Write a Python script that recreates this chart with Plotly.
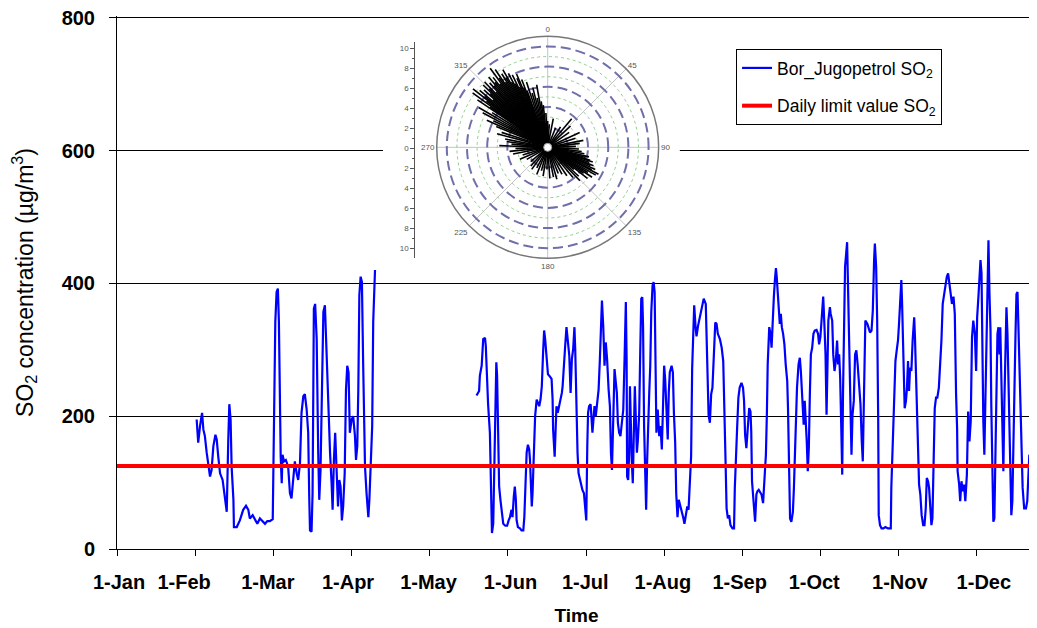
import plotly.graph_objects as go

# Axis labels
MONTH_LABELS = ["1-Jan", "1-Feb", "1-Mar", "1-Apr", "1-May", "1-Jun",
                "1-Jul", "1-Aug", "1-Sep", "1-Oct", "1-Nov", "1-Dec"]
Y_TICKS = [0, 200, 400, 600, 800]
DAILY_LIMIT = 125  # ug/m3
X_END = 357.6      # last day shown (axis runs on a 365-day year)

# SO2 at Bor_Jugopetrol, first measuring period (Feb - Apr), day of year
so2_day_a = [31.0, 31.6, 32.3, 33.1, 33.6, 34.2, 34.9, 35.5, 36.2, 36.8, 37.5, 38.3, 38.8, 39.4,
             40.1, 41.1, 42.0, 42.7, 43.3, 43.7, 44.2, 44.6, 45.3, 45.5, 46.6, 47.8, 49.1, 50.2,
             51.1, 51.7, 52.8, 53.7, 54.6, 55.6, 56.7, 57.6, 58.5, 59.5, 60.6, 60.8, 61.1, 61.6,
             62.1, 62.6, 63.0, 63.4, 63.7, 64.1, 64.4, 65.0, 65.7, 66.6, 67.3, 67.9, 68.6, 69.2,
             69.9, 70.5, 71.2, 71.8, 72.5, 73.1, 73.8, 74.4, 74.8, 75.1, 75.7, 76.1, 76.4, 76.6,
             77.1, 77.7, 78.3, 78.7, 79.2, 79.9, 80.3, 80.9, 81.6, 82.2, 82.9, 83.5, 83.9, 84.4,
             84.9, 85.4, 86.0, 86.5, 87.0, 87.5, 88.0, 88.6, 89.1, 89.6, 90.1, 90.6, 91.3, 91.9,
             92.6, 93.0, 93.5, 93.9, 94.3, 94.8, 95.3, 95.8, 96.5, 97.1, 97.8, 98.2, 98.7, 99.3,
             99.7, 100.4]
so2_val_a = [195, 160, 185, 205, 180, 170, 145, 124, 109, 119, 155, 172, 165, 139,
             114, 104, 79, 56, 165, 218, 195, 124, 74, 33, 33, 43, 59, 65,
             59, 46, 51, 45, 38, 46, 41, 38, 42, 42, 45, 99, 215, 342, 387, 392,
             342, 220, 139, 99, 142, 132, 134, 124, 84, 76, 109, 132, 114, 104,
             129, 205, 230, 233, 210, 175, 79, 28, 26, 84, 245, 362, 369, 316,
             145, 74, 119, 281, 357, 367, 286, 225, 145, 99, 59, 134, 175, 124,
             64, 104, 94, 43, 64, 114, 240, 276, 266, 175, 195, 200, 170, 134,
             155, 240, 382, 410, 402, 276, 124, 84, 48, 74, 114, 185, 342, 420]

# second measuring period (late May - Dec)
so2_day_b = [139.9, 140.9, 141.2, 141.9, 142.5, 143.2, 143.5, 143.8, 144.4, 145.1, 145.5, 145.9,
             146.4, 146.8, 147.2, 147.6, 147.9, 148.3, 148.7, 149.2, 149.8, 150.3, 151.1, 151.8,
             152.4, 152.9, 153.5, 153.9, 154.4, 154.8, 155.2, 155.5, 156.0, 156.8, 157.4, 158.1,
             158.5, 158.8, 159.4, 159.9, 160.4, 160.7, 161.0, 161.4, 161.7, 162.0, 162.3, 162.7,
             163.3, 163.8, 164.3, 164.8, 165.3, 165.8, 166.2, 166.6, 167.1, 167.7, 168.2, 168.7,
             169.1, 169.5, 169.7, 170.3, 170.6, 171.0, 171.5, 172.1, 172.6, 173.1, 173.4, 173.9,
             174.4, 174.9, 175.4, 176.0, 176.5, 177.0, 177.5, 178.0, 178.3, 178.6, 178.8, 179.2,
             179.6, 180.1, 180.6, 181.1, 181.7, 182.2, 182.6, 183.0, 183.3, 183.7, 184.3, 184.6,
             185.0, 185.4, 185.8, 186.3, 186.8, 187.4, 187.9, 188.3, 188.7, 189.2, 189.7, 190.2,
             190.7, 191.3, 191.8, 192.2, 192.6, 193.1, 193.6, 194.1, 194.5, 194.9, 195.4, 195.9,
             196.4, 197.0, 197.5, 197.7, 198.0, 198.3, 198.5, 198.9, 199.3, 199.6, 199.9, 200.3,
             200.7, 201.1, 201.5, 201.9, 202.3, 202.7, 203.2, 203.6, 204.0, 204.4, 204.7, 205.1,
             205.5, 205.9, 206.3, 206.7, 207.1, 207.5, 207.9, 208.4, 208.8, 209.2, 209.5, 209.9,
             210.4, 211.0, 211.5, 212.0, 212.5, 212.9, 213.3, 213.8, 214.3, 214.7, 215.1, 215.8,
             216.3, 216.7, 217.2, 217.6, 218.1, 218.6, 219.3, 219.8, 220.3, 220.8, 221.3, 221.9,
             222.4, 222.9, 223.4, 223.8, 224.2, 224.6, 225.1, 225.5, 226.1,
             227.4, 228.3, 229.1, 229.6, 230.2, 230.7, 231.2, 231.7, 232.2, 232.8, 233.3, 233.8,
             234.6, 235.3, 235.9, 236.4, 236.8, 237.2, 237.7, 238.2, 238.7, 239.5, 240.1, 240.4,
             240.8, 241.3, 241.8, 242.3, 243.0, 243.6, 244.0, 244.4, 244.9, 245.5, 246.0, 246.5,
             246.8, 247.1, 247.5, 247.9, 248.3, 248.8, 249.2, 249.7, 250.3, 250.8, 251.4, 252.1,
             252.5, 252.9, 253.2, 253.8, 254.3, 254.7, 255.1, 255.6, 256.0, 256.4, 256.7, 257.1,
             257.5, 257.9, 258.3, 258.7, 259.2, 259.7, 260.2, 260.8, 261.1, 261.5, 261.9, 262.4,
             263.0, 263.4, 263.7, 264.1, 264.6, 265.2, 265.7, 266.1, 266.5, 266.9, 267.2, 267.6,
             268.0, 268.4, 268.8, 269.2, 269.6, 270.0, 270.5, 271.0, 271.5, 272.2, 272.8, 273.2,
             273.7, 274.2, 274.8, 275.3, 275.7, 276.1, 276.5, 276.8, 277.4, 277.7, 278.3, 278.7,
             279.2, 279.7, 280.2, 280.6, 281.0, 281.4, 281.8, 282.2, 282.5, 282.9, 283.3, 284.1,
             284.5, 284.9, 285.3, 285.8, 286.2, 286.7, 287.2, 287.7, 288.2, 288.8, 289.3, 289.8,
             290.2, 290.6, 291.0, 291.2,
             292.0, 293.0, 293.6, 294.1, 294.6, 294.9, 295.4, 295.8, 296.2, 296.4, 296.9, 297.5,
             298.2, 299.0, 300.0, 301.1, 301.3, 301.9, 302.4, 302.9, 303.4, 303.9, 304.3, 304.7,
             305.2, 305.5, 305.8, 306.1, 306.5, 307.0, 307.4, 307.8, 308.2, 308.6, 309.1, 309.6,
             310.2, 310.5, 310.9, 311.3, 311.7, 312.1, 312.6, 313.1, 313.7, 314.2, 314.7, 315.1,
             315.6, 316.0, 316.4, 316.9, 317.3, 317.7, 318.2, 318.7, 319.2, 319.8, 320.3, 320.8,
             321.3, 321.8, 322.4, 322.9, 323.4, 323.9, 324.4, 324.9, 325.5, 326.0, 326.5, 326.9,
             327.1, 327.7, 328.1, 328.6, 329.1, 329.6, 330.1, 330.7, 331.2, 331.7, 332.2, 332.7,
             333.2, 333.8, 334.3, 334.7, 335.2, 335.6, 336.0, 336.4, 336.7, 337.1, 337.5, 337.9,
             338.3, 338.7, 339.1, 339.5, 339.9, 340.2, 340.6, 341.0, 341.4, 341.8, 342.2, 342.6,
             343.0, 343.4, 343.7, 344.1, 344.5, 344.9, 345.3, 345.7, 346.1, 346.5, 346.9, 347.2,
             347.6, 348.0, 348.4, 348.8, 349.2, 349.6, 350.0, 350.4, 350.7, 351.1, 351.5, 351.9,
             352.4, 353.0, 353.7, 354.2, 354.6, 355.0, 355.4, 355.8, 356.2, 356.6, 357.0, 357.4,
             357.6]
so2_val_b = [231, 238, 261, 276, 316, 318, 306, 271, 218, 175, 89, 24,
             38, 109, 175, 281, 261, 155, 94, 74, 54, 38, 35, 35,
             43, 48, 59, 48, 79, 94, 74, 43, 33, 31, 28, 28,
             48, 94, 145, 157, 150, 134, 84, 64, 84, 114, 155, 200,
             225, 220, 215, 225, 245, 296, 329, 316, 296, 263, 261, 258,
             256, 225, 180, 139, 195, 215, 205, 215, 225, 235, 245, 286,
             306, 334, 316, 291, 235, 286, 301, 334, 301, 240, 195, 145,
             114, 104, 99, 89, 84, 64, 43, 155, 205, 215, 218, 200,
             175, 195, 215, 200, 215, 240, 286, 352, 374, 336, 276, 311,
             286, 240, 215, 145, 119, 195, 271, 251, 235, 190, 175, 170,
             190, 210, 286, 342, 372, 286, 109, 104, 145, 245, 175, 134,
             99, 185, 245, 195, 145, 165, 205, 296, 377, 379, 336, 185,
             109, 59, 134, 210, 235, 276, 357, 397, 402, 387, 235, 175,
             210, 170, 185, 150, 220, 276, 256, 210, 165, 235, 266, 276,
             266, 205, 160, 84, 48, 74, 64, 54, 48, 38, 54, 64,
             59, 94, 140, 271, 336, 367, 336, 320, 336,
             359, 377, 369, 294, 202, 190, 233, 243, 299, 341, 339, 324,
             316, 303, 283, 218, 132, 61, 46, 51, 36, 31, 31, 92,
             142, 182, 228, 243, 250, 243, 223, 172, 152, 182, 212, 207,
             177, 102, 77, 51, 41, 82, 87, 89, 84, 82, 69, 117,
             142, 207, 278, 334, 324, 303, 344, 380, 405, 423, 410, 384,
             359, 339, 354, 334, 324, 308, 278, 253, 212, 117, 46, 41,
             56, 92, 142, 192, 243, 278, 288, 268, 233, 207, 187, 223,
             197, 162, 117, 152, 233, 293, 303, 324, 329, 330, 324, 308,
             319, 354, 380, 334, 293, 202, 283, 344, 364, 354, 344, 293,
             268, 283, 314, 278, 293, 258, 187, 112, 233, 354, 425, 462,
             384, 268, 202, 142, 202, 223, 293, 299, 278, 243, 218, 162,
             132, 218, 278, 344,
             339, 326, 329, 359, 435, 460, 425, 344, 192, 51, 36, 31,
             31, 33, 31, 31, 92, 177, 233, 283, 299, 314, 339, 374,
             405, 369, 319, 268, 212, 223, 243, 283, 238, 273, 268, 314,
             349, 319, 263, 187, 137, 97, 82, 51, 36, 36, 61, 107,
             102, 92, 67, 36, 46, 142, 212, 228, 228, 243, 273, 314,
             369, 384, 399, 410, 415, 399, 389, 369, 380, 354, 233, 182,
             117, 97, 72, 102, 87, 97, 72, 112, 207, 162, 192, 319,
             344, 324, 268, 349, 380, 405, 435, 415, 303, 192, 142, 223,
             344, 425, 465, 384, 329, 218, 102, 41, 46, 142, 278, 324,
             334, 293, 334, 243, 172, 117, 223, 319, 364, 324, 243, 177,
             112, 51, 72, 172, 243, 319, 384, 387, 344, 283, 192, 142,
             92, 61, 61, 72, 122, 142, 137, 112, 82, 102, 147, 152,
             350]

# Inset: wind direction (deg, clockwise from N) and length of each ray
wind_dir = [300, 302, 304, 305, 306, 307, 308, 309, 310, 311, 312, 313, 314, 315, 316, 317,
            318, 319, 320, 321, 322, 323, 324, 325, 326, 327, 328, 329, 330, 331, 332, 333,
            334, 335, 336, 337, 338, 339, 340, 342, 344, 346, 348, 350, 352, 354, 357, 296,
            298, 292, 294, 288, 285, 281, 278, 275, 272, 268, 264, 259, 253, 247, 240, 230,
            222, 216, 208, 202, 195, 189, 182, 176, 169, 164, 158, 152, 146, 140, 136, 133,
            130, 128, 126, 124, 122, 120, 118, 117, 115, 113, 112, 110, 108, 107, 105, 103,
            100, 97, 93, 88, 83, 79, 72, 65, 55, 47, 40, 32, 22, 11, 4, 0]
wind_len = [7.9, 6.5, 8.4, 7.0, 9.2, 7.6, 9.4, 8.0, 8.8, 7.2, 8.5, 7.8, 8.9, 8.2, 9.0, 7.5,
            8.6, 8.1, 9.1, 8.3, 8.8, 7.9, 9.7, 8.4, 9.3, 7.7, 8.6, 8.0, 8.9, 7.4, 8.3, 7.1,
            8.0, 6.6, 7.5, 7.9, 6.4, 7.2, 6.0, 6.8, 5.6, 6.1, 5.0, 6.3, 4.6, 4.2, 3.4, 6.0,
            7.3, 5.5, 6.6, 4.8, 5.2, 4.3, 4.1, 3.6, 4.8, 3.2, 3.8, 3.5, 2.6, 3.0, 2.4, 2.2,
            2.5, 2.7, 2.3, 2.9, 2.4, 2.9, 2.2, 3.1, 3.0, 3.3, 2.8, 3.0, 3.4, 3.9, 4.6, 4.2,
            3.4, 5.0, 4.4, 5.3, 4.7, 5.5, 5.7, 4.9, 5.2, 4.6, 4.9, 4.4, 4.7, 4.4, 3.9, 4.2,
            3.7, 3.4, 3.1, 2.8, 3.2, 3.6, 2.9, 3.5, 2.6, 3.1, 3.7, 2.4, 2.1, 2.9, 2.3, 2.6]
compass_ticks = [0, 45, 90, 135, 180, 225, 270, 315]
inset_scale_ticks = [-10, -8, -6, -4, -2, 0, 2, 4, 6, 8, 10]

FONT = "Liberation Sans, Arial, sans-serif"
GRAY = "#555555"

fig = go.Figure()

# main series, the two periods separated by a gap
fig.add_trace(go.Scatter(
    x=so2_day_a + [None] + so2_day_b,
    y=so2_val_a + [None] + so2_val_b,
    mode="lines",
    line=dict(color="#0000ff", width=2.2),
    name="Bor_Jugopetrol SO<sub>2</sub>",
    legendgroup="a",
))
fig.add_trace(go.Scatter(
    x=[0, X_END],
    y=[DAILY_LIMIT, DAILY_LIMIT],
    mode="lines",
    line=dict(color="#ff0000", width=4),
    name="Daily limit value SO<sub>2</sub>",
    legendgroup="b",
))
# invisible point that carries the month-label axis
fig.add_trace(go.Scatter(
    x=[0], y=[0], xaxis="x3", mode="markers",
    marker=dict(opacity=0), showlegend=False, hoverinfo="skip",
))

# wind rose inset: one ray per record, drawn from the centre
r_rays, th_rays = [], []
for d, l in zip(wind_dir, wind_len):
    r_rays += [0, l, None]
    th_rays += [d, d, None]

# bottom polar layer only carries the grid; an empty point keeps it drawn
fig.add_trace(go.Scatterpolar(
    r=[0], theta=[0], mode="markers", marker=dict(opacity=0),
    subplot="polar", showlegend=False, hoverinfo="skip",
))
fig.add_trace(go.Scatterpolar(
    r=r_rays, theta=th_rays, mode="lines",
    line=dict(color="black", width=1.6),
    subplot="polar2", showlegend=False, hoverinfo="skip",
))
fig.add_trace(go.Scatterpolar(
    r=[0], theta=[0], mode="markers",
    marker=dict(size=8, color="white", line=dict(color="#999999", width=1)),
    subplot="polar2", showlegend=False, hoverinfo="skip",
))
# dummy point so the inset's scale axis is drawn
fig.add_trace(go.Scatter(
    x=[0], y=[0], xaxis="x2", yaxis="y2", mode="markers",
    marker=dict(opacity=0), showlegend=False, hoverinfo="skip",
))

# white backing of the inset picture (hides the 600 gridline behind it)
fig.add_shape(type="rect", xref="x", yref="y",
              x0=103.5, x1=219.0, y0=412, y1=796,
              fillcolor="white", line_width=0, layer="between")

polar_dom = dict(x=[0.3479, 0.5894], y=[0.5453, 0.9619])
# month labels sit slightly off their tick marks in the original
month_label_pos = [0.8, 26.1, 58.7, 89.9, 121.2, 153.1, 182.2, 212.4, 242.3, 271.3, 304.6, 337.3]

fig.update_layout(
    width=1037,
    height=628,
    # the page body adds 8px on the top/left, margins compensate for it
    margin=dict(l=109, r=9, t=8, b=87),
    paper_bgcolor="white",
    plot_bgcolor="white",
    font=dict(family=FONT, color="black"),
    xaxis=dict(
        range=[0, X_END],
        tickvals=[i * 365 / 12 for i in range(len(MONTH_LABELS))],
        showticklabels=False,
        ticks="outside", ticklen=6, tickcolor="black",
        showline=True, linecolor="black", linewidth=1,
        showgrid=False, zeroline=False, automargin=False,
    ),
    xaxis3=dict(
        range=[0, X_END], overlaying="x", anchor="y", side="bottom",
        tickvals=month_label_pos, ticktext=MONTH_LABELS,
        ticks="", showline=False, showgrid=False, zeroline=False,
        tickfont=dict(size=20, weight="bold"),
        ticklabelstandoff=19, ticklabeloverflow="allow", automargin=False,
        title=dict(text="Time", font=dict(size=19, weight="bold"), standoff=16),
    ),
    yaxis=dict(
        range=[0, 802.5],
        tickvals=Y_TICKS,
        ticks="outside", ticklen=7, tickcolor="black",
        showline=True, linecolor="black", linewidth=1,
        showgrid=True, gridcolor="black", gridwidth=1,
        zeroline=False, automargin=False,
        tickfont=dict(size=20, weight="bold"),
        ticklabelstandoff=10, ticklabeloverflow="allow",
        title=dict(text="SO<sub>2</sub> concentration (µg/m<sup>3</sup>)",
                   font=dict(size=23), standoff=30),
    ),
    xaxis2=dict(domain=[0.3246, 0.33], visible=False, range=[0, 1]),
    yaxis2=dict(
        domain=[0.5460, 0.9518], anchor="x2", range=[-10.97, 10.66],
        tickvals=inset_scale_ticks,
        ticktext=[str(abs(v)) for v in inset_scale_ticks],
        ticks="outside", ticklen=4, tickcolor=GRAY,
        minor=dict(dtick=1, ticks="outside", ticklen=2, tickcolor=GRAY),
        showline=True, linecolor=GRAY, linewidth=1,
        showgrid=False, zeroline=False,
        tickfont=dict(size=8, color=GRAY),
    ),
    polar=dict(
        domain=polar_dom,
        bgcolor="white",
        angularaxis=dict(
            rotation=90, direction="clockwise",
            tickvals=compass_ticks, ticks="",
            showgrid=True, gridcolor="#c4c4c4", gridwidth=1,
            showline=True, linecolor="#777777", linewidth=1.5,
            tickfont=dict(size=8, color=GRAY),
        ),
        radialaxis=dict(
            range=[0, 11], tickvals=[1, 3, 5, 7, 9],
            showticklabels=False, ticks="", showline=False,
            gridcolor="#8fd08f", griddash="dot", gridwidth=1.3,
        ),
    ),
    polar2=dict(
        domain=polar_dom,
        bgcolor="rgba(0,0,0,0)",
        angularaxis=dict(
            rotation=90, direction="clockwise",
            showgrid=False, showticklabels=False, ticks="", showline=False,
        ),
        radialaxis=dict(
            range=[0, 11], tickvals=[2, 4, 6, 8, 10],
            showticklabels=False, ticks="", showline=False,
            gridcolor="#6f6faa", griddash="10px,5px", gridwidth=1.5,
        ),
    ),
    legend=dict(
        x=0.6736, y=0.938, xanchor="left", yanchor="top",
        bordercolor="black", borderwidth=1, bgcolor="white",
        font=dict(size=17.5),
        traceorder="grouped", tracegroupgap=12,
    ),
)

fig.write_html("out.html")
